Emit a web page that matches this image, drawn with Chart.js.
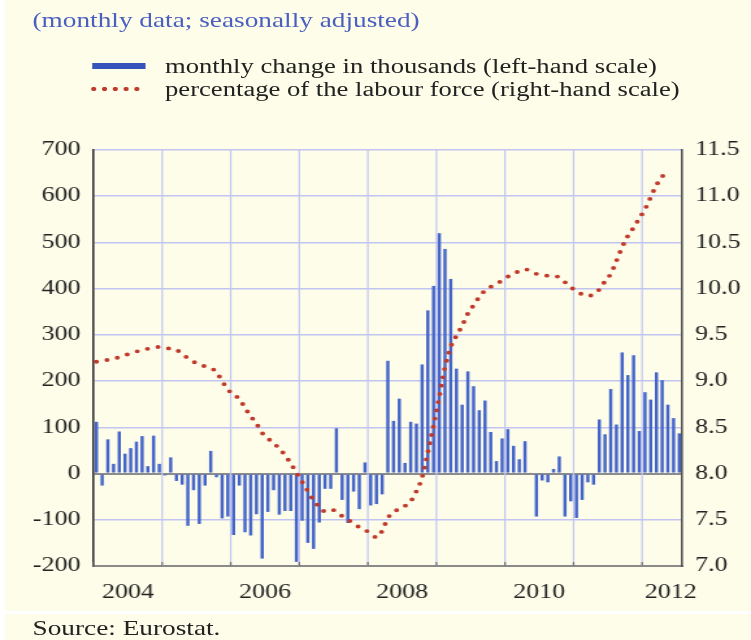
<!DOCTYPE html>
<html>
<head>
<meta charset="utf-8">
<title>Unemployment – monthly change and rate</title>
<script src="https://cdn.jsdelivr.net/npm/chart.js@4.4.1/dist/chart.umd.min.js"></script>
<style>
  html, body { margin: 0; padding: 0; }
  body { width: 751px; height: 640px; overflow: hidden; position: relative; background: #fdfde9; }
  /* the original picture is stretched sideways, so draw on a narrow sheet and widen it */
  #sheet { position: absolute; left: 0; top: 0; width: 578px; height: 640px;
           transform: scaleX(1.2993); transform-origin: 0 0;
           font-family: "Liberation Serif", "Times New Roman", serif; color: #222; }
  #sheet canvas { position: absolute; left: 0; top: 0; }
  .txt { position: absolute; white-space: nowrap; line-height: 24px; }
  #title { left: 25px; top: 8px; font-size: 21px; color: #4a5fc0; }
  .key { position: absolute; }
  #keyBar { left: 71px; width: 41px; top: 63px; height: 6px; background: #3654b9; }
  #keyDots { left: 67.5px; width: 41.5px; top: 86px; height: 6px;
             background: radial-gradient(circle, #c0392b 1.8px, transparent 2.3px) 0 0 / 8.3px 6px repeat-x; }
  .leg { left: 127px; font-size: 20.5px; }
  #leg1 { top: 54px; }
  #leg2 { top: 77px; }
  #source { left: 25px; top: 616px; font-size: 21px; }
  #edge { position: absolute; left: 0; top: 0; width: 5px; height: 640px; background: #fff; }
  #rule { position: absolute; left: 0; top: 611px; width: 751px; height: 3px; background: #fff; }
</style>
</head>
<body>
<div id="sheet">
  <canvas id="chart" width="578" height="640"></canvas>
  <div class="txt" id="title">(monthly data; seasonally adjusted)</div>
  <div class="key" id="keyBar"></div>
  <div class="txt leg" id="leg1">monthly change in thousands (left-hand scale)</div>
  <div class="key" id="keyDots"></div>
  <div class="txt leg" id="leg2">percentage of the labour force (right-hand scale)</div>
  <div class="txt" id="source">Source: Eurostat.</div>
</div>
<div id="edge"></div>
<div id="rule"></div>

<script>
  // months Jan 2004 .. Jul 2012
  const years = ['2004', '2005', '2006', '2007', '2008', '2009', '2010', '2011', '2012'];
  const lastMonth = '2012-07';
  const months = [];
  years.forEach(y => {
    for (let m = 1; m <= 12; m++) {
      const key = y + '-' + String(m).padStart(2, '0');
      if (key > lastMonth) break;
      months.push(key);
    }
  });

  // year labels sit in the middle of their year
  const yearLabelAt = ['2004-07', '2006-07', '2008-07', '2010-07', '2012-06'];

  // monthly change in thousands (left-hand scale)
  const monthlyChange = [
    112, -26, 74, 21, 91, 43, 55, 69, 81, 16, 82, 21,            // 2004
    -4, 35, -16, -24, -113, -36, -109, -26, 49, -8, -97, -93,    // 2005
    -133, -26, -127, -134, -88, -184, -83, -36, -89, -81, -81, -191, // 2006
    -102, -150, -163, -106, -33, -33, 98, -57, -107, -39, -77, 24,   // 2007
    -69, -66, -45, 244, 114, 162, 23, 112, 108, 236, 353, 406,   // 2008
    520, 486, 421, 227, 149, 221, 189, 137, 158, 90, 27, 76,     // 2009
    96, 60, 31, 70, 2, -93, -15, -19, 10, 37, -93, -60,          // 2010
    -96, -57, -19, -24, 117, 85, 183, 106, 262, 213, 256, 92,    // 2011
    176, 160, 219, 202, 149, 120, 87                             // 2012
  ];

  // percentage of the labour force (right-hand scale)
  const unemploymentRate = [
    9.21, 9.22, 9.23, 9.24, 9.26, 9.28, 9.30, 9.32, 9.33, 9.35, 9.36, 9.37,
    9.36, 9.35, 9.34, 9.29, 9.25, 9.21, 9.18, 9.16, 9.14, 9.10, 9.00, 8.91,
    8.85, 8.81, 8.71, 8.62, 8.54, 8.44, 8.38, 8.33, 8.27, 8.20, 8.11, 8.01,
    7.91, 7.81, 7.71, 7.64, 7.59, 7.61, 7.59, 7.54, 7.50, 7.46, 7.42, 7.39,
    7.35, 7.31, 7.38, 7.52, 7.58, 7.62, 7.65, 7.70, 7.81, 7.96, 8.23, 8.52,
    8.83, 9.15, 9.37, 9.49, 9.60, 9.73, 9.82, 9.91, 9.98, 10.02, 10.05, 10.09,
    10.13, 10.16, 10.19, 10.21, 10.19, 10.16, 10.15, 10.14, 10.14, 10.12, 10.07, 10.02,
    9.97, 9.94, 9.92, 9.94, 9.99, 10.08, 10.16, 10.30, 10.45, 10.57, 10.66, 10.76,
    10.86, 10.99, 11.12, 11.21, 11.29, null, null
  ];

  const leftTicks = { min: -200, max: 700, step: 100 };
  const rightTicks = { min: 7.0, max: 11.5, step: 0.5 };

  const gridBlue = '#c2c5f2';

  Chart.defaults.font.family = '"Liberation Serif", "Times New Roman", serif';
  Chart.defaults.font.size = 20;
  Chart.defaults.color = '#222';

  // pixel of the boundary in front of month i
  function yearEdge(scale, i) {
    return i === 0 ? scale.left : (scale.getPixelForValue(i) + scale.getPixelForValue(i - 1)) / 2;
  }

  // vertical grid at each new year, small upward ticks on the bottom axis
  const yearGrid = {
    id: 'yearGrid',
    beforeDatasetsDraw(chart) {
      const x = chart.scales.x, ctx = chart.ctx, area = chart.chartArea;
      ctx.save();
      ctx.strokeStyle = gridBlue;
      ctx.lineWidth = 1.2;
      months.forEach((m, i) => {
        if (i === 0 || !m.endsWith('-01')) return;
        const px = yearEdge(x, i);
        ctx.beginPath();
        ctx.moveTo(px, area.top);
        ctx.lineTo(px, area.bottom);
        ctx.stroke();
      });
      ctx.restore();
    },
    afterDraw(chart) {
      const x = chart.scales.x, ctx = chart.ctx, area = chart.chartArea;
      ctx.save();
      ctx.strokeStyle = '#6f6f6f';
      ctx.lineWidth = 1.2;
      months.forEach((m, i) => {
        if (!m.endsWith('-01')) return;
        const px = yearEdge(x, i);
        ctx.beginPath();
        ctx.moveTo(px, area.bottom);
        ctx.lineTo(px, area.bottom - 4);
        ctx.stroke();
      });
      ctx.restore();
    }
  };

  new Chart(document.getElementById('chart'), {
    type: 'bar',
    data: {
      labels: months,
      datasets: [{
        type: 'line',
        label: 'percentage of the labour force (right-hand scale)',
        data: unemploymentRate,
        yAxisID: 'y1',
        borderColor: '#c0392b',
        borderWidth: 3.9,
        borderDash: [0, 8.3],
        borderCapStyle: 'round',
        pointRadius: 0,
        cubicInterpolationMode: 'monotone',
        fill: false,
        order: 0
      }, {
        label: 'monthly change in thousands (left-hand scale)',
        data: monthlyChange,
        yAxisID: 'y',
        backgroundColor: '#4464c9',
        barPercentage: 0.56,
        categoryPercentage: 1,
        order: 1
      }]
    },
    options: {
      responsive: false,
      animation: false,
      layout: { padding: { top: 150, bottom: 40, left: 0, right: 0 } },
      plugins: { legend: { display: false }, tooltip: { enabled: false } },
      scales: {
        x: {
          grid: { display: false },
          border: { color: '#8a8a8a', width: 2 },
          ticks: {
            autoSkip: false,
            maxRotation: 0,
            padding: 7,
            labelOffset: -2.2,
            callback: (v, i) => yearLabelAt.includes(months[i]) ? months[i].slice(0, 4) : ''
          },
          afterFit: s => { s.height = 34; }
        },
        y: {
          position: 'left',
          min: leftTicks.min,
          max: leftTicks.max,
          ticks: { stepSize: leftTicks.step, padding: 10 },
          grid: {
            drawTicks: false,
            color: c => c.tick.value === 0 ? '#8c8c8c' : gridBlue,
            lineWidth: c => c.tick.value === 0 ? 2 : 1.5
          },
          border: { color: '#333', width: 1.6 },
          afterFit: s => { s.width = 72; }
        },
        y1: {
          position: 'right',
          min: rightTicks.min,
          max: rightTicks.max,
          ticks: { stepSize: rightTicks.step, padding: 10, callback: v => v.toFixed(1) },
          grid: { drawOnChartArea: false, drawTicks: false },
          border: { color: '#555', width: 1.6 },
          afterFit: s => { s.width = 53; }
        }
      }
    },
    plugins: [yearGrid]
  });
</script>
</body>
</html>
